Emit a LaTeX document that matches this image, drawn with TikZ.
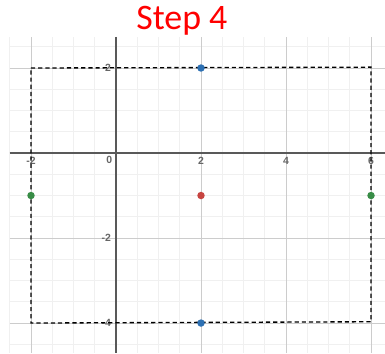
\documentclass[tikz,border=0pt]{standalone}
\usepackage{fontspec}
\usepackage{tikz}
\usetikzlibrary{arrows.meta}
\newfontfamily\titlefont{Carlito}
\newfontfamily\tickfont{Liberation Sans}
\definecolor{dblue}{HTML}{2D70B3}
\definecolor{dred}{HTML}{C74440}
\definecolor{dgreen}{HTML}{388C46}

\begin{document}
\begin{tikzpicture}[>=Stealth,
  minorgrid/.style={gray!12, line width=0.6pt},
  majorgrid/.style={gray!40, line width=0.6pt},
  axisline/.style={black!65, line width=1.2pt},
  ticklabel/.style={inner sep=0pt, text=black!60, font=\tickfont\bfseries\fontsize{7}{8}\selectfont},
  dot/.style={circle, inner sep=0pt, minimum size=5pt},
  boxline/.style={black, line width=0.9pt, dash pattern=on 2.8pt off 2pt}]
  \useasboundingbox (-2.729,-4.706) rectangle (6.329,3.6);
  \draw[minorgrid, step=0.5] (-2.5,-4.706) grid (6.329,2.73);
  \draw[majorgrid, step=2] (-2.5,-4.706) grid (6.329,2.73);
  \draw[axisline] (-2.5,0) -- (6.329,0);
  \draw[axisline] (0,2.73) -- (0,-4.706);
  \node[red, font=\titlefont\fontsize{24}{28}\selectfont] (title) at (1.55,3.12) {Step 4};
  % tick labels
  \node[ticklabel] (xm2) at (-2,-0.19) {-2};
  \node[ticklabel] (x0) at (-0.16,-0.17) {0};
  \node[ticklabel] (x2) at (2,-0.19) {2};
  \node[ticklabel] (x4) at (4,-0.19) {4};
  \node[ticklabel] (x6) at (6,-0.19) {6};
  \node[ticklabel, anchor=east] (y2) at (-0.11,2) {2};
  \node[ticklabel, anchor=east] (ym2) at (-0.11,-2) {-2};
  \node[ticklabel, anchor=east] (ym4) at (-0.11,-4) {-4};
  % dashed box
  \coordinate (tl) at (-2,2);
  \coordinate (tr) at (6,2.02);
  \coordinate (br) at (6,-3.97);
  \coordinate (bl) at (-2,-4);
  \draw[boxline] (tl) -- (tr) -- (br) -- (bl) -- cycle;
  % points
  \node[dot, fill=dblue] (top) at (2,2) {};
  \node[dot, fill=dblue] (bottom) at (2,-4) {};
  \node[dot, fill=dred] (centre) at (2,-1) {};
  \node[dot, fill=dgreen] (left) at (-2,-1) {};
  \node[dot, fill=dgreen] (right) at (6,-1) {};
\end{tikzpicture}
\end{document}
